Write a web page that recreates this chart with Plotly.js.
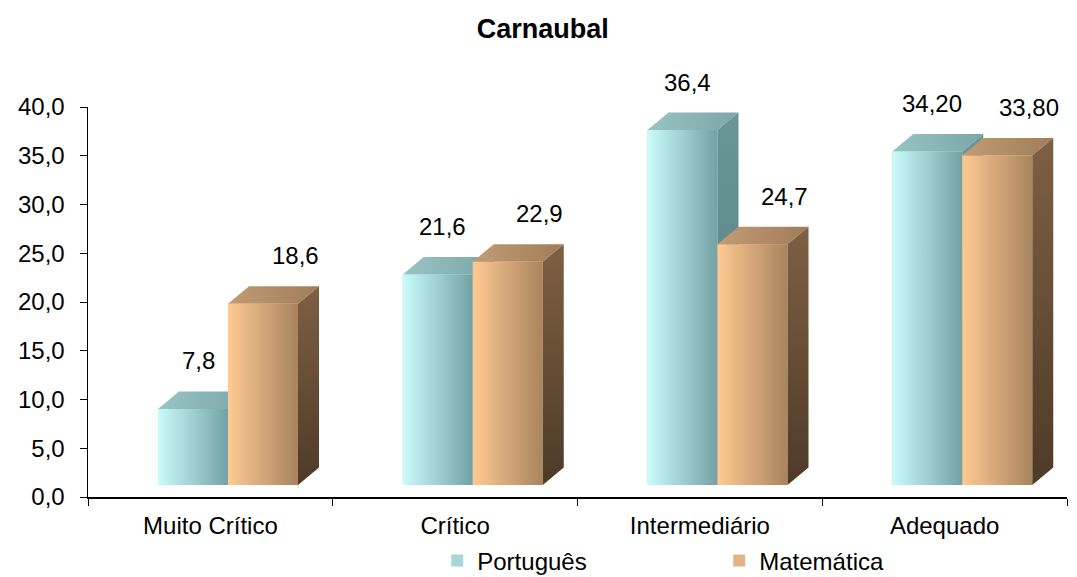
<!DOCTYPE html>
<html>
<head>
<meta charset="utf-8">
<script src="https://cdn.plot.ly/plotly-3.0.1.min.js"></script>
<style>
  html, body { margin: 0; padding: 0; background: #fff; }
  #chart { width: 1077px; height: 577px; }
</style>
</head>
<body>
<div id="chart"></div>
<script>
// Carnaubal: share of students per proficiency level
const categories = ['Muito Crítico', 'Crítico', 'Intermediário', 'Adequado'];
const portugues = [7.8, 21.6, 36.4, 34.2];
const matematica = [18.6, 22.9, 24.7, 33.8];
const labelDecimals = [1, 1, 1, 2];
const seriesNames = ['Português', 'Matemática'];
const yTicks = [0, 5, 10, 15, 20, 25, 30, 35, 40];

// Page geometry (pixels)
const W = 1077, H = 577;
const M = { l: 88, r: 10, t: 107, b: 80 };
const pxPerCat = (W - M.l - M.r) / categories.length;
const pxPerUnit = (H - M.t - M.b) / (yTicks[yTicks.length - 1] - yTicks[0]);

// 3D box look: floor lift and depth, converted to axis units
const FLOOR = 12 / pxPerUnit;
const DX = 21 / pxPerCat;
const DY = 17.5 / pxPerUnit;
const BAR_W = 0.286;
const GROUP_START = -0.214;

const FONT = 'Liberation Sans, Arial, sans-serif';

const styles = [
  { legend: '#a6d6d7',
    front: ['#cafcfc', '#74a2a4'], top: ['#98c4c4', '#7aa6a7'], side: ['#6a9697', '#51787a'] },
  { legend: '#e2b386',
    front: ['#ffca92', '#a8845f'], top: ['#c29c75', '#a27c58'], side: ['#7e6043', '#4d3a27'] }
];

function fmt(v, d) { return v.toFixed(d).replace('.', ','); }

const traces = [];
const series = [portugues, matematica];

// Plain bars (category axis) carry the legend and the front faces
series.forEach((vals, s) => {
  traces.push({
    type: 'bar', name: seriesNames[s], x: categories, y: vals,
    base: vals.map(() => FLOOR),
    offset: GROUP_START + s * BAR_W, width: BAR_W,
    marker: { color: styles[s].legend, line: { width: 0 } },
    hoverinfo: 'skip', xaxis: 'x', yaxis: 'y'
  });
});

function poly(xs, ys, colors, dir) {
  return {
    type: 'scatter', mode: 'lines', x: xs.concat([xs[0]]), y: ys.concat([ys[0]]),
    fill: 'toself', fillcolor: colors[0],
    fillgradient: { type: dir, colorscale: [[0, colors[0]], [1, colors[1]]] },
    line: { width: 0, color: 'rgba(0,0,0,0)' },
    hoverinfo: 'skip', showlegend: false, xaxis: 'x2', yaxis: 'y'
  };
}

// Shaded boxes: top, side, then front, series by series so the right box overlaps the left one
series.forEach((vals, s) => {
  const st = styles[s];
  categories.forEach((c, i) => {
    const L = i + GROUP_START + s * BAR_W, R = L + BAR_W;
    const B = FLOOR, T = FLOOR + vals[i];
    traces.push(poly([L, R, R + DX, L + DX], [T, T, T + DY, T + DY], st.top, 'horizontal'));
    traces.push(poly([R, R + DX, R + DX, R], [B, B + DY, T + DY, T], [st.side[1], st.side[0]], 'vertical'));
    traces.push(poly([L, R, R, L], [B, B, T, T], st.front, 'horizontal'));
  });
});

// Value labels above each box
const annotations = [];
const labelShiftX = [5, 32];
series.forEach((vals, s) => {
  vals.forEach((v, i) => {
    const L = i + GROUP_START + s * BAR_W;
    annotations.push({
      xref: 'x2', yref: 'y', x: L + BAR_W / 2, y: FLOOR + v,
      text: fmt(v, labelDecimals[i]), showarrow: false,
      xshift: labelShiftX[s], yshift: 48, yanchor: 'middle',
      font: { family: FONT, size: 24, color: '#000' }
    });
  });
});

const layout = {
  width: W, height: H,
  margin: M,
  paper_bgcolor: '#fff', plot_bgcolor: '#fff',
  font: { family: FONT, size: 24, color: '#000' },
  title: { text: '<b>Carnaubal</b>', x: 0.504, xanchor: 'center', y: 0.951, yanchor: 'middle',
           font: { size: 27, color: '#000' } },
  barmode: 'overlay',
  showlegend: true,
  legend: {
    orientation: 'h', xref: 'container', yref: 'container',
    x: 0.406, xanchor: 'left', y: 0.028, yanchor: 'middle',
    entrywidth: 237, entrywidthmode: 'pixels',
    bgcolor: 'rgba(0,0,0,0)',
    font: { size: 24, color: '#000' }, itemwidth: 30
  },
  xaxis: {
    type: 'category', categoryorder: 'array', categoryarray: categories,
    range: [-0.5, categories.length - 0.5],
    tickson: 'boundaries', ticks: 'outside', ticklen: 7, tickcolor: '#000', tickwidth: 1,
    ticklabelstandoff: 7,
    showline: true, linecolor: '#000', linewidth: 1.5,
    showgrid: false, zeroline: false, fixedrange: true,
    tickfont: { size: 24, color: '#000' }
  },
  xaxis2: {
    type: 'linear', overlaying: 'x', range: [-0.5, categories.length - 0.5],
    visible: false, fixedrange: true
  },
  yaxis: {
    range: [yTicks[0], yTicks[yTicks.length - 1]],
    tickvals: yTicks, tickformat: '.1f',
    ticks: 'outside', ticklen: 7, tickcolor: '#000', tickwidth: 1,
    ticklabelstandoff: 10,
    showline: true, linecolor: '#000', linewidth: 1.5,
    showgrid: false, zeroline: false, fixedrange: true,
    tickfont: { size: 24, color: '#000' }
  },
  separators: ',.',
  annotations: annotations
};

Plotly.newPlot('chart', traces, layout, { displayModeBar: false, staticPlot: true });
</script>
</body>
</html>
